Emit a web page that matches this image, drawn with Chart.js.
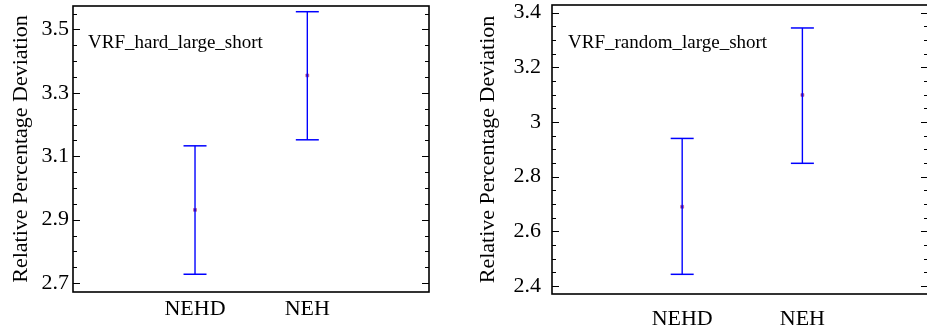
<!DOCTYPE html>
<html lang="en">

<head>
    <meta charset="UTF-8">
    <title>Relative Percentage Deviation</title>
    <script src="https://cdn.jsdelivr.net/npm/chart.js/dist/chart.umd.min.js"></script>
    <style>
        html, body { margin: 0; padding: 0; background: #fff; overflow: hidden; }
        .panel { position: absolute; top: 0; height: 328px; }
        #left { left: 0; width: 470px; }
        #right { left: 470px; width: 462px; }
    </style>
</head>

<body>
    <div class="panel" id="left"><canvas id="leftChart"></canvas></div>
    <div class="panel" id="right"><canvas id="rightChart"></canvas></div>
    <script>
        // data
        const categories = ["NEHD", "NEH"];
        const catPos = [1, 2];

        const hardMeans = [2.931, 3.355];
        const hardLows = [2.728, 3.152];
        const hardHighs = [3.133, 3.556];
        const hardTicks = [2.7, 2.9, 3.1, 3.3, 3.5];

        const randomMeans = [2.690, 3.099];
        const randomLows = [2.443, 2.849];
        const randomHighs = [2.940, 3.344];
        const randomTicks = [2.4, 2.6, 2.8, 3, 3.2, 3.4];

        const serif = "'Liberation Serif', 'Times New Roman', serif";

        // frame + inward ticks (major and minor) on both sides
        const framePlugin = {
            id: 'frame',
            afterDraw(chart, args, opts) {
                const ctx = chart.ctx;
                const a = chart.chartArea;
                const y = chart.scales.y;
                ctx.save();
                ctx.strokeStyle = '#000';
                ctx.lineWidth = 1;
                const step = opts.minor;
                for (let v = Math.ceil(y.min / step - 1e-6) * step; v <= y.max + 1e-9; v += step) {
                    const py = Math.round(y.getPixelForValue(v)) + 0.5;
                    const major = opts.major.some(t => Math.abs(t - v) < 1e-6);
                    const len = major ? 7 : 4;
                    ctx.beginPath();
                    ctx.moveTo(a.left, py); ctx.lineTo(a.left + len, py);
                    ctx.moveTo(a.right, py); ctx.lineTo(a.right - len, py);
                    ctx.stroke();
                }
                ctx.lineWidth = 1.6;
                ctx.strokeRect(a.left, a.top, a.right - a.left, a.bottom - a.top);
                // annotation
                ctx.fillStyle = '#000';
                ctx.font = "19px " + serif;
                ctx.textBaseline = 'middle';
                ctx.fillText(opts.label, a.left + opts.labelDx, a.top + opts.labelDy);
                ctx.restore();
            }
        };

        function buildDatasets(means, lows, highs) {
            const sets = [];
            categories.forEach((c, i) => {
                sets.push({
                    type: 'line',
                    data: [{ x: catPos[i], y: lows[i] }, { x: catPos[i], y: highs[i] }],
                    borderColor: '#0000ff',
                    borderWidth: 1.4,
                    pointStyle: 'line',
                    pointRadius: 11.5,
                    pointBorderColor: '#0000ff',
                    pointBorderWidth: 1.5,
                    pointHoverRadius: 11.5
                });
            });
            sets.push({
                type: 'scatter',
                data: categories.map((c, i) => ({ x: catPos[i], y: means[i] })),
                pointStyle: 'rect',
                pointRadius: 2,
                backgroundColor: '#7a1f5c',
                borderColor: '#c06090',
                borderWidth: 0.8
            });
            return sets;
        }

        function createChart(id, cfg) {
            const ctx = document.getElementById(id).getContext('2d');
            return new Chart(ctx, {
                type: 'scatter',
                data: { datasets: buildDatasets(cfg.means, cfg.lows, cfg.highs) },
                options: {
                    responsive: true,
                    maintainAspectRatio: false,
                    animation: false,
                    events: [],
                    layout: {
                        autoPadding: false,
                        padding: { top: cfg.top, right: cfg.right, left: cfg.left, bottom: 0 }
                    },
                    plugins: {
                        legend: { display: false },
                        tooltip: { enabled: false },
                        frame: { major: cfg.ticks, minor: 0.05, label: cfg.label, labelDx: cfg.labelDx, labelDy: cfg.labelDy }
                    },
                    scales: {
                        x: {
                            type: 'linear',
                            min: cfg.xMin,
                            max: cfg.xMax,
                            grid: { display: false, drawTicks: false },
                            border: { display: false },
                            afterBuildTicks: s => { s.ticks = catPos.map(v => ({ value: v })); },
                            afterFit: s => { s.height = cfg.xAxisHeight; s.paddingLeft = 0; s.paddingRight = 0; },
                            ticks: {
                                autoSkip: false,
                                maxRotation: 0,
                                padding: cfg.xPad,
                                color: '#000',
                                font: { family: serif, size: 22 },
                                callback: v => categories[catPos.indexOf(v)]
                            }
                        },
                        y: {
                            min: cfg.yMin,
                            max: cfg.yMax,
                            grid: { display: false, drawTicks: false },
                            border: { display: false },
                            afterBuildTicks: s => { s.ticks = cfg.ticks.map(v => ({ value: v })); },
                            afterFit: s => { s.width = cfg.yAxisWidth; s.paddingTop = 0; s.paddingBottom = 0; },
                            ticks: {
                                padding: cfg.yPad,
                                color: '#000',
                                font: { family: serif, size: 22 },
                                callback: v => String(v)
                            },
                            title: {
                                display: true,
                                text: 'Relative Percentage Deviation',
                                color: '#000',
                                font: { family: serif, size: 22 },
                                padding: 0
                            }
                        }
                    }
                },
                plugins: [framePlugin]
            });
        }

        createChart('leftChart', {
            means: hardMeans, lows: hardLows, highs: hardHighs, ticks: hardTicks,
            yMin: 2.672, yMax: 3.574, xMin: -0.0865, xMax: 3.0835,
            top: 6, right: 41, left: 8, xAxisHeight: 36, yAxisWidth: 65, xPad: 4, yPad: 4,
            label: 'VRF_hard_large_short', labelDx: 15, labelDy: 37
        });

        createChart('rightChart', {
            means: randomMeans, lows: randomLows, highs: randomHighs, ticks: randomTicks,
            yMin: 2.371, yMax: 3.428, xMin: -0.083, xMax: 3.045,
            top: 5, right: 4, left: 5, xAxisHeight: 34, yAxisWidth: 77, xPad: 12, yPad: 11,
            label: 'VRF_random_large_short', labelDx: 16, labelDy: 38
        });
    </script>
</body>

</html>
